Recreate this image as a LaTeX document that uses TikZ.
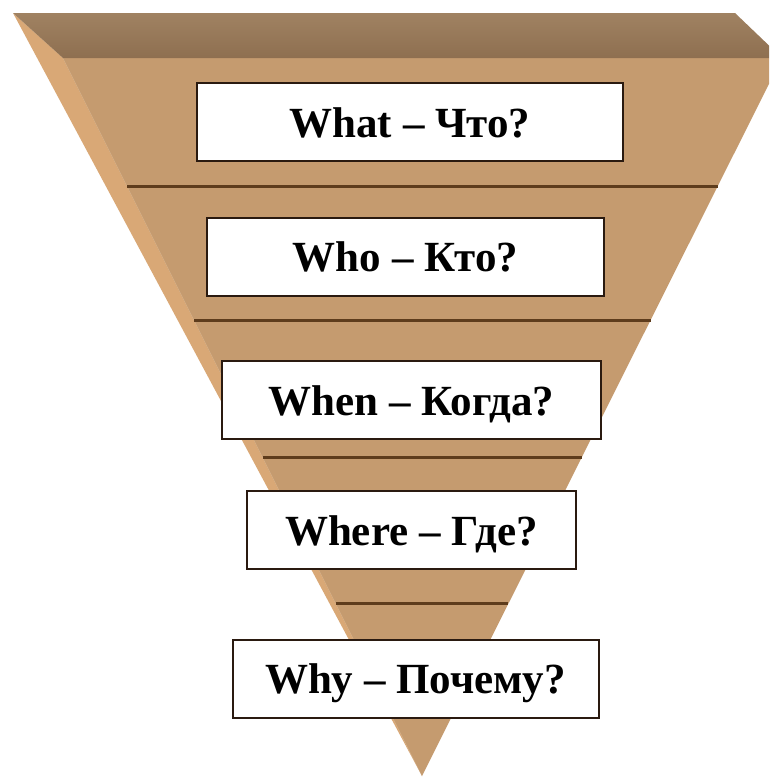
\documentclass[tikz,border=0pt]{standalone}
\usepackage{fontspec}
\setmainfont{Liberation Serif}
\usetikzlibrary{calc}

\definecolor{bandtop}{HTML}{A08262}
\definecolor{bandbot}{HTML}{8E6F50}
\definecolor{frontface}{HTML}{C59B6F}
\definecolor{sideface}{HTML}{D9A876}
\definecolor{rulecol}{HTML}{5E3C1C}
\definecolor{boxline}{HTML}{2A1A10}

\tikzset{
    qbox/.style = {draw = boxline, line width = 2pt, fill = white, inner sep = 0pt,
        minimum height = 78, text height = 30pt, text depth = 0pt,
        font = \fontsize{43}{50}\selectfont\bfseries},
    sepline/.style = {draw = rulecol, line width = 3pt}
}

\begin{document}
\begin{tikzpicture}[x = 1pt, y = -1pt]

        \useasboundingbox (0, 0) rectangle (769, 777);
        \fill[white] (0, 0) rectangle (769, 777);

        \coordinate (bl) at (13, 13);
        \coordinate (br) at (735, 13);
        \coordinate (fl) at (63, 58);
        \coordinate (fr) at (782, 58);
        \coordinate (tip) at (422, 776);

        \begin{scope}
            \clip (0, 0) rectangle (769, 777);

            \fill[sideface] (bl) -- (fl) -- (tip) -- cycle;
            \fill[frontface] (fl) -- (fr) -- (tip) -- cycle;
            \shade[top color = bandtop, bottom color = bandbot] (bl) -- (br) -- (fr) -- (fl) -- cycle;

            \foreach \t in {0.1785, 0.365, 0.5565, 0.76}{
                    \draw[sepline] ($(fl)!\t!(tip)$) -- ($(fr)!\t!(tip)$);
                }
        \end{scope}

        \node[qbox, minimum width = 426] (what) at (410, 122) {What – Что?};
        \node[qbox, minimum width = 397] (who) at (405.5, 256.5) {Who – Кто?};
        \node[qbox, minimum width = 379] (when) at (411.5, 400) {When – Когда?};
        \node[qbox, minimum width = 329] (where) at (411.5, 530) {Where – Где?};
        \node[qbox, minimum width = 366] (why) at (415.5, 678.5) {Why – Почему?};

    \end{tikzpicture}
\end{document}
